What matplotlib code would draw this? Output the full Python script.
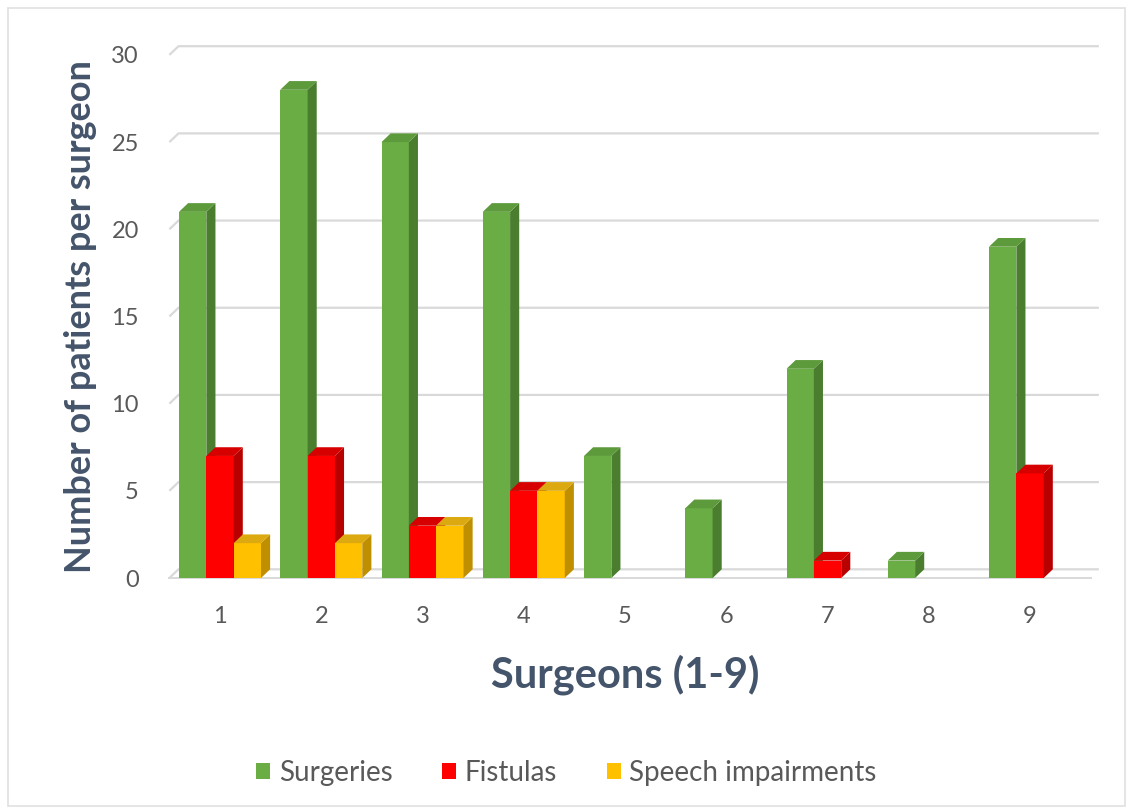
import matplotlib.pyplot as plt
from matplotlib.patches import Polygon, Rectangle

plt.rcParams['font.family'] = ['Lato', 'DejaVu Sans']

surgeons = ['1', '2', '3', '4', '5', '6', '7', '8', '9']
surgeries = [21, 28, 25, 21, 7, 4, 12, 1, 19]
fistulas = [7, 7, 3, 5, 0, 0, 1, 0, 6]
speech = [2, 2, 3, 5, 0, 0, 0, 0, 0]

series = [
    ('Surgeries', surgeries, ('#6aad45', '#4a7d2e', '#5d9a3b')),
    ('Fistulas', fistulas, ('#ff0000', '#b80000', '#d60000')),
    ('Speech impairments', speech, ('#ffc000', '#c08f00', '#dcaa10')),
]

bar_w = 0.27
dx, dy = 0.09, 0.5   # depth offset of the pseudo-3D boxes (data units)
grid_col = '#d9d9d9'
text_col = '#595959'
title_col = '#44546a'

fig = plt.figure(figsize=(11.33, 8.10), dpi=100)
ax = fig.add_axes([0.1495, 0.2864, 0.8043, 0.6458])
ax.set_xlim(0.5, 9.5)
ax.set_ylim(0, 30)

# back-wall gridlines with a short diagonal on the side wall
for yv in range(0, 31, 5):
    ax.plot([0.5, 0.5 + dx, 9.68], [yv, yv + dy, yv + dy], color=grid_col,
            lw=1.6, zorder=0, clip_on=False, solid_capstyle='butt')
ax.plot([0.5, 9.6], [0, 0], color=grid_col, lw=1.4, zorder=0, clip_on=False)


def draw_box(x0, h, cols, z):
    front, side, top = cols
    ax.add_patch(Rectangle((x0, 0), bar_w, h, facecolor=front, lw=0, zorder=z))
    ax.add_patch(Polygon([(x0 + bar_w, 0), (x0 + bar_w + dx, dy),
                          (x0 + bar_w + dx, h + dy), (x0 + bar_w, h)],
                         facecolor=side, lw=0, zorder=z, clip_on=False))
    ax.add_patch(Polygon([(x0, h), (x0 + dx, h + dy),
                          (x0 + bar_w + dx, h + dy), (x0 + bar_w, h)],
                         facecolor=top, lw=0, zorder=z, clip_on=False))


for i in range(len(surgeons)):
    cx = i + 1
    for j, (name, vals, cols) in enumerate(series):
        v = vals[i]
        if v <= 0:
            continue
        x0 = cx - 1.5 * bar_w + j * bar_w
        draw_box(x0, v, cols, 2 + i * 3 + j)

for sp in ax.spines.values():
    sp.set_visible(False)
ax.set_xticks(range(1, 10))
ax.set_xticklabels(surgeons)
ax.set_yticks(range(0, 31, 5))
ax.tick_params(axis='both', length=0, labelsize=17, labelcolor=text_col)
ax.tick_params(axis='x', pad=20)
ax.tick_params(axis='y', pad=22)

ax.set_ylabel('Number of patients per surgeon', fontsize=26, fontweight='bold',
              color=title_col, labelpad=10)
ax.set_xlabel('Surgeons (1-9)', fontsize=30, fontweight='bold',
              color=title_col, labelpad=20)

handles = [Rectangle((0, 0), 1, 1, facecolor=c[0], lw=0) for _, _, c in series]
fig.legend(handles, [s[0] for s in series], loc='center',
           bbox_to_anchor=(0.5, 0.046), ncol=3, frameon=False, fontsize=20,
           labelcolor=text_col, handlelength=0.5, handleheight=0.5,
           handletextpad=0.3, columnspacing=1.8)

# chart area border
fig.patches.append(Rectangle((0.007, 0.005), 0.986, 0.985, transform=fig.transFigure,
                             fill=False, edgecolor='#e0e0e0', lw=1.2))

fig.savefig('out.png', dpi=100, facecolor='white')
